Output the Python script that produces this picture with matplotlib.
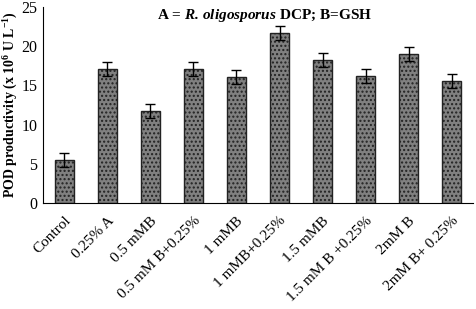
import matplotlib.pyplot as plt
import matplotlib as mpl

plt.rcParams["font.family"] = ["Liberation Serif", "DejaVu Serif"]
plt.rcParams["mathtext.fontset"] = "custom"
plt.rcParams["mathtext.rm"] = "Liberation Serif"
plt.rcParams["mathtext.it"] = "Liberation Serif:italic"
plt.rcParams["mathtext.bf"] = "Liberation Serif:bold"
plt.rcParams["mathtext.bfit"] = "Liberation Serif:bold:italic"
mpl.rcParams["hatch.color"] = "white"
mpl.rcParams["hatch.linewidth"] = 1.0

categories = ["Control", "0.25% A", "0.5 mMB", "0.5 mM B+0.25%", "1 mMB",
              "1 mMB+0.25%", "1.5 mMB", "1.5 mM B +0.25%", "2mM B", "2mM B+ 0.25%"]
values = [5.5, 17.1, 11.7, 17.1, 16.1, 21.7, 18.2, 16.2, 19.0, 15.6]
errors = [0.9, 0.9, 0.9, 0.9, 0.9, 0.9, 0.9, 0.9, 0.9, 0.9]

fig = plt.figure(figsize=(4.76, 3.09), dpi=100)
ax = fig.add_axes([0.090, 0.343, 0.904, 0.635])

x = range(len(categories))
ax.bar(x, values, width=0.44, color="#808080", edgecolor="#222222",
       linewidth=1.0, hatch="....", yerr=errors,
       error_kw=dict(ecolor="black", elinewidth=1.0, capsize=3.6, capthick=1.0))

ax.set_xlim(-0.5, 9.5)
ax.set_ylim(0, 25)
ax.set_yticks([0, 5, 10, 15, 20, 25])
ax.set_xticks(list(x))
ax.set_xticklabels(categories, rotation=45, ha="right", rotation_mode="anchor",
                   fontsize=11)
ax.tick_params(axis="x", length=0, pad=8)
ax.tick_params(axis="y", labelsize=11.5, length=0, pad=4)
ax.spines["top"].set_visible(False)
ax.spines["right"].set_visible(False)
ax.set_ylabel(r"POD productivity (x 10$^{\mathbf{6}}$ U L$^{\mathbf{-1}}$)",
              fontsize=10, fontweight="bold", labelpad=1)

ax.text(0.516, 1.0, r"A = $\mathbfit{R.\,oligosporus}$ DCP; B=GSH",
        transform=ax.transAxes, ha="center", va="top", fontsize=11,
        fontweight="bold")

fig.savefig("out.png", dpi=100)
